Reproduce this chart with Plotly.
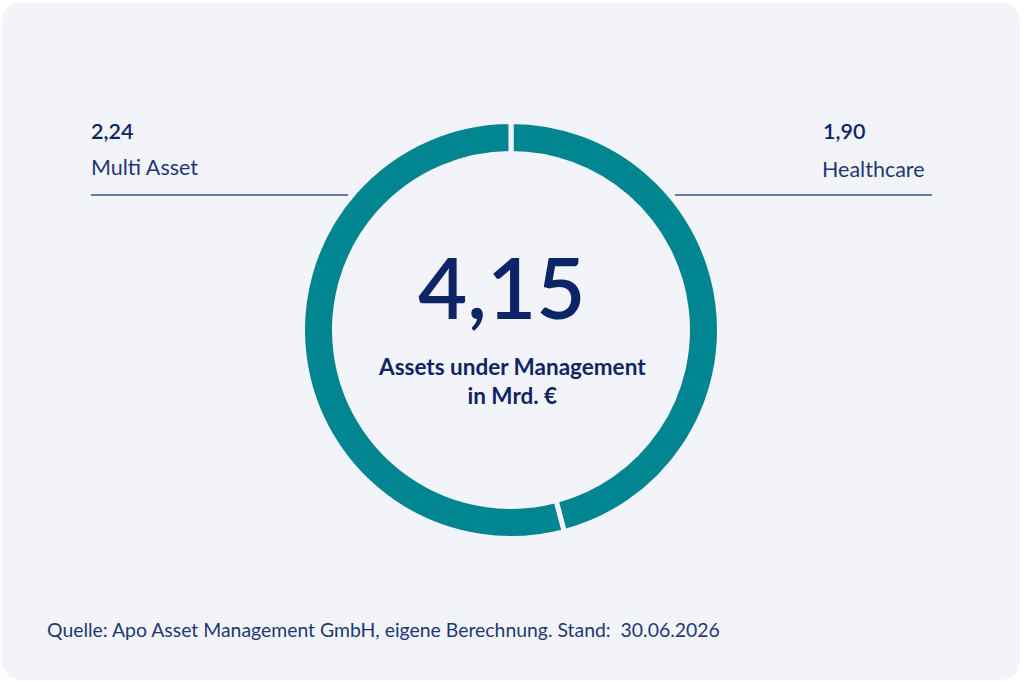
import plotly.graph_objects as go

# Daten
labels = ["Healthcare", "Multi Asset"]
values = [1.90, 2.24]
value_text = ["1,90", "2,24"]
total_text = "4,15"
center_caption = "Assets under Management<br>in Mrd. €"
source_text = "Quelle: Apo Asset Management GmbH, eigene Berechnung. Stand:  30.06.2026"

W, H = 1024, 682
TEAL = "#008591"
NAVY = "#0D2466"
CARD = "#F3F4F9"
FONT = "Lato"


def px(x):
    return x / W


def py(y):
    # Pixel von oben -> paper-Koordinate von unten
    return 1 - y / H


# Ring
cx, cy, R, r = 511, 330, 208.5, 176.5
fig = go.Figure(
    go.Pie(
        labels=labels,
        values=values,
        sort=False,
        direction="clockwise",
        rotation=0,
        hole=r / R,
        textinfo="none",
        hoverinfo="label+value",
        marker=dict(colors=[TEAL, TEAL], line=dict(color=CARD, width=5)),
        domain=dict(x=[px(cx - R), px(cx + R)], y=[py(cy + R), py(cy - R)]),
        showlegend=False,
    )
)

# Karte mit runden Ecken
x0, x1, y0, y1, rad = 2, 1020, 2, 680, 22
card_path = (
    f"M {px(x0 + rad)} {py(y0)} L {px(x1 - rad)} {py(y0)} "
    f"Q {px(x1)} {py(y0)} {px(x1)} {py(y0 + rad)} "
    f"L {px(x1)} {py(y1 - rad)} Q {px(x1)} {py(y1)} {px(x1 - rad)} {py(y1)} "
    f"L {px(x0 + rad)} {py(y1)} Q {px(x0)} {py(y1)} {px(x0)} {py(y1 - rad)} "
    f"L {px(x0)} {py(y0 + rad)} Q {px(x0)} {py(y0)} {px(x0 + rad)} {py(y0)} Z"
)
shapes = [
    dict(type="path", path=card_path, xref="paper", yref="paper",
         fillcolor=CARD, line=dict(width=0), layer="below"),
    dict(type="line", xref="paper", yref="paper", x0=px(91), x1=px(348),
         y0=py(195), y1=py(195), line=dict(color="#3A5290", width=1.6)),
    dict(type="line", xref="paper", yref="paper", x0=px(675), x1=px(932),
         y0=py(195), y1=py(195), line=dict(color="#3A5290", width=1.6)),
]

annotations = [
    dict(x=px(89), y=py(131), text=value_text[1], xanchor="left",
         font=dict(size=21.5, color=NAVY, weight=600)),
    dict(x=px(89), y=py(167), text=labels[1], xanchor="left",
         font=dict(size=21.5, color="#1E3876")),
    dict(x=px(821), y=py(131), text=value_text[0], xanchor="left",
         font=dict(size=21.5, color=NAVY, weight=600)),
    dict(x=px(820), y=py(169), text=labels[0], xanchor="left",
         font=dict(size=21.5, color="#1E3876")),
    dict(x=px(502), y=py(286), text=total_text, xanchor="center",
         font=dict(size=85, color=NAVY, weight=600)),
    dict(x=px(512), y=py(381), text=center_caption, xanchor="center",
         font=dict(size=22.5, color=NAVY, weight=700)),
    dict(x=px(45), y=py(629), text=source_text, xanchor="left",
         font=dict(size=19.4, color="#1E3876")),
]
for a in annotations:
    a.update(xref="paper", yref="paper", yanchor="middle", showarrow=False)
    a["font"]["family"] = FONT

fig.update_layout(
    width=W, height=H,
    margin=dict(l=0, r=0, t=0, b=0),
    paper_bgcolor="white",
    plot_bgcolor="white",
    shapes=shapes,
    annotations=annotations,
    font=dict(family=FONT),
)

# Seitenrand entfernen, damit die Grafik genau das Fenster füllt
fig.write_html(
    "out.html",
    config={"displayModeBar": False},
    post_script="document.body.style.margin='0';document.body.style.overflow='hidden';",
)
